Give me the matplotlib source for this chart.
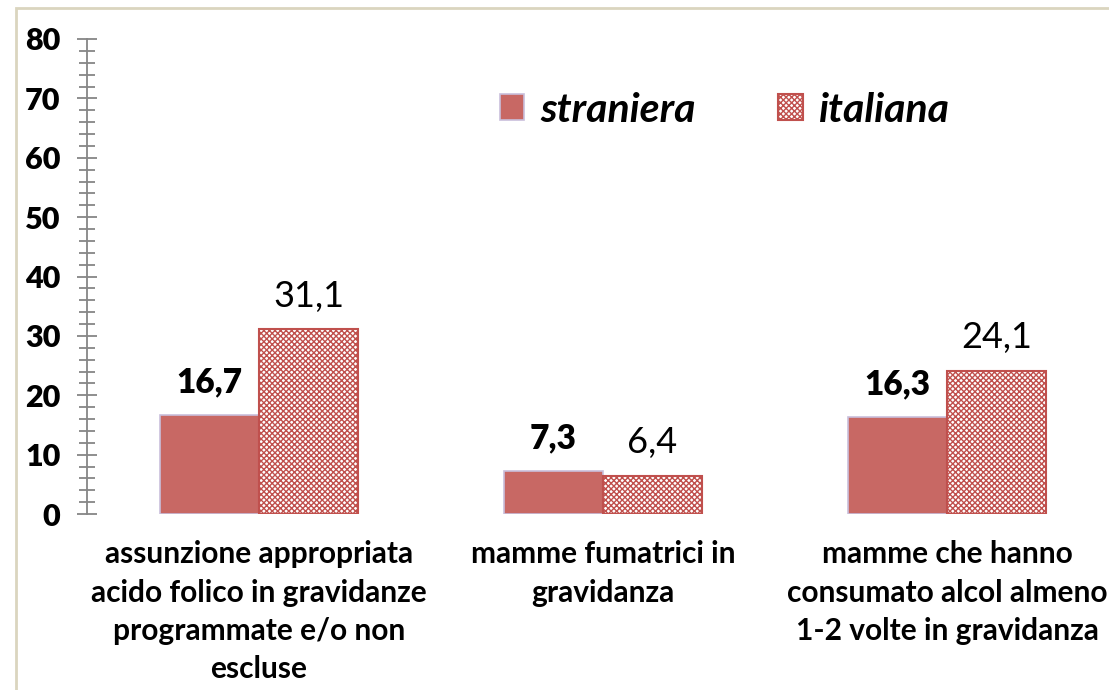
import matplotlib
matplotlib.use("Agg")
import matplotlib.pyplot as plt
import numpy as np
from matplotlib.patches import Rectangle, Patch

plt.rcParams["font.family"] = ["Lato", "DejaVu Sans"]
plt.rcParams["hatch.color"] = "#C0504D"
plt.rcParams["hatch.linewidth"] = 1.0

# data
categories = [
    "assunzione appropriata\nacido folico in gravidanze\nprogrammate e/o non\nescluse",
    "mamme fumatrici in\ngravidanza",
    "mamme che hanno\nconsumato alcol almeno\n1-2 volte in gravidanza",
]
straniera = [16.7, 7.3, 16.3]
italiana = [31.1, 6.4, 24.1]
series_names = ["straniera", "italiana"]

RED = "#C86864"
EDGE_RED = "#C0504D"
LAVENDER = "#C9BFDB"
GRAY = "#868686"

fig = plt.figure(figsize=(11.09, 6.90), dpi=100)
fig.patch.set_facecolor("white")

# outer chart frame (beige)
fig.patches.append(Rectangle((16 / 1109, -0.1), 1.2, (690 - 8) / 690 + 0.1,
                             transform=fig.transFigure, fill=False,
                             edgecolor="#DAD5BF", linewidth=2.0))

ax = fig.add_axes([87 / 1109, (690 - 514) / 690, 1032 / 1109, 475 / 690])

x = np.arange(len(categories))
w = 0.288
ax.bar(x - w / 2, straniera, w, color=RED, edgecolor=LAVENDER, linewidth=1.2)
ax.bar(x + w / 2, italiana, w, color="white", edgecolor=EDGE_RED,
       linewidth=1.5, hatch="xxxxxx")

for xi, v in zip(x, straniera):
    ax.annotate(f"{v:.1f}".replace(".", ","), (xi - w / 2, v), xytext=(0, 12),
                textcoords="offset points", ha="center", va="bottom",
                fontsize=24, fontweight="heavy")
for xi, v in zip(x, italiana):
    ax.annotate(f"{v:.1f}".replace(".", ","), (xi + w / 2, v), xytext=(0, 12),
                textcoords="offset points", ha="center", va="bottom",
                fontsize=26)

ax.set_xlim(-0.5, 2.5)
ax.set_ylim(0, 80)
ax.set_yticks(np.arange(0, 81, 10))
ax.set_yticks(np.arange(0, 81, 2), minor=True)
ax.set_xticks(x)
ax.set_xticklabels(categories, fontsize=21.5, fontweight="bold", linespacing=1.45)

for s in ["top", "right", "bottom"]:
    ax.spines[s].set_visible(False)
ax.spines["left"].set_color(GRAY)
ax.spines["left"].set_linewidth(1.3)
ax.tick_params(axis="y", which="major", direction="inout", length=14,
               width=1.3, color=GRAY, labelsize=22, pad=12)
ax.tick_params(axis="y", which="minor", direction="inout", length=11,
               width=1.3, color=GRAY)
for t in ax.get_yticklabels():
    t.set_fontweight("heavy")
ax.tick_params(axis="x", length=0, pad=19)

handles = [Patch(facecolor=RED, edgecolor=LAVENDER, linewidth=1.2),
           Patch(facecolor="white", edgecolor=EDGE_RED, hatch="xxxxxx", linewidth=1.5)]
ax.legend(handles, series_names, loc="center",
          bbox_to_anchor=((725 - 87) / 1032, (514 - 110) / 475),
          ncol=2, frameon=False, prop={"size": 29.5, "weight": "bold", "style": "italic"},
          handlelength=0.6, handleheight=0.6, columnspacing=2.0, handletextpad=0.4)

fig.savefig("out.png", dpi=100)
